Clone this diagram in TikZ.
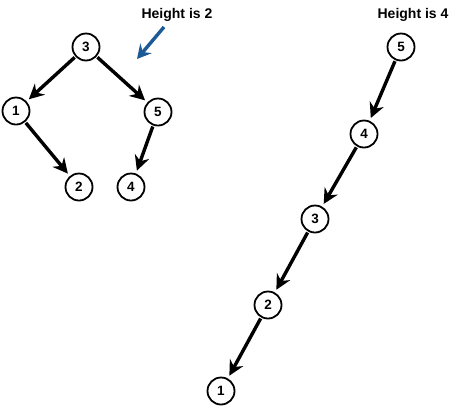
\documentclass[tikz,border=0pt]{standalone}
\usepackage{fontspec}
\setmainfont{Liberation Sans}
\usetikzlibrary{arrows.meta}
\definecolor{arrowblue}{RGB}{28,90,150}
\begin{document}
\begin{tikzpicture}[x=1pt,y=-1pt,
  vtx/.style={circle,draw,line width=1.8pt,minimum size=27pt,inner sep=0pt,font=\bfseries\fontsize{13.5}{13.5}\selectfont},
  lbl/.style={font=\bfseries\fontsize{14}{14}\selectfont},
  edge/.style={line width=3.4pt,-{Stealth[length=15pt,width=15pt,inset=5pt]},shorten >=3pt,shorten <=1pt},
  note/.style={line width=3.4pt,draw=arrowblue,-{Stealth[length=14pt,width=15pt,inset=5pt]}}]
\useasboundingbox (0,0) rectangle (465,408);
% left tree
\node[vtx] (l3) at (86,47) {3};
\node[vtx] (l1) at (16,111) {1};
\node[vtx] (l5) at (158,112) {5};
\node[vtx] (l2) at (79,187) {2};
\node[vtx] (l4) at (131,187) {4};
\draw[edge] (l3) -- (l1);
\draw[edge] (l3) -- (l5);
\draw[edge] (l1) -- (l2);
\draw[edge] (l5) -- (l4);
% right tree
\node[vtx] (r5) at (401,47) {5};
\node[vtx] (r4) at (364,134) {4};
\node[vtx] (r3) at (315,219) {3};
\node[vtx] (r2) at (268,305) {2};
\node[vtx] (r1) at (221,391) {1};
\draw[edge] (r5) -- (r4);
\draw[edge] (r4) -- (r3);
\draw[edge] (r3) -- (r2);
\draw[edge] (r2) -- (r1);
% labels
\node[lbl] (h2) at (177,15) {Height is 2};
\node[lbl] (h4) at (413,15) {Height is 4};
\coordinate (ntip) at (137,59);
\draw[note] (164,27) -- (ntip);
\end{tikzpicture}
\end{document}
